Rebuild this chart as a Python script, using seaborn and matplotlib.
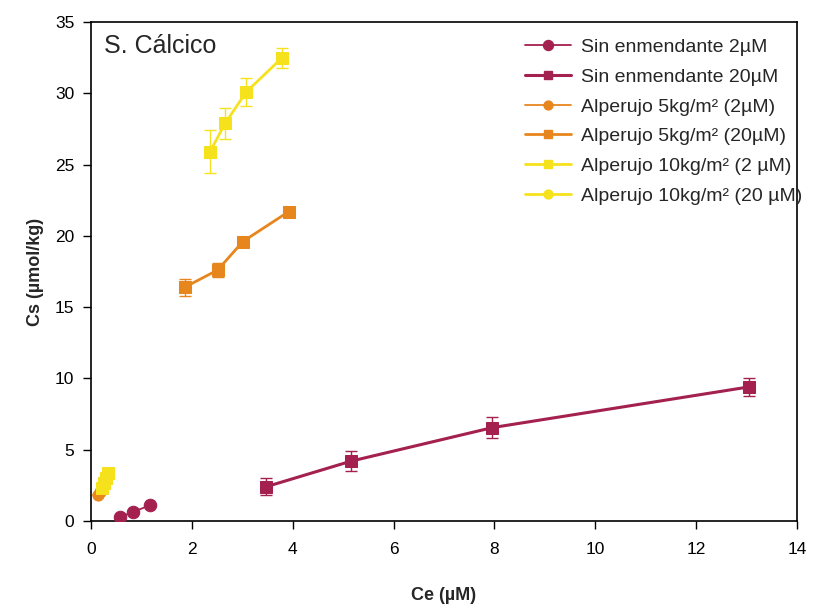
import matplotlib
matplotlib.use("Agg")
import matplotlib.pyplot as plt
import seaborn as sns
import numpy as np
import pandas as pd

sns.set_theme(style="white")
plt.rcParams['font.family'] = ['Liberation Sans', 'DejaVu Sans']

labels = ["Sin enmendante 2µM", "Sin enmendante 20µM",
          "Alperujo 5kg/m² (2µM)", "Alperujo 5kg/m² (20µM)",
          "Alperujo 10kg/m² (2 µM)", "Alperujo 10kg/m² (20 µM)"]

ce_sin2 = [0.58, 0.83, 1.17]
cs_sin2 = [0.28, 0.63, 1.10]
err_sin2 = [0.05, 0.05, 0.05]

ce_sin20 = [3.47, 5.16, 7.96, 13.04]
cs_sin20 = [2.4, 4.2, 6.55, 9.4]
err_sin20 = [0.6, 0.7, 0.75, 0.65]

ce_a5_2 = [0.14, 0.17, 0.20]
cs_a5_2 = [1.85, 2.0, 2.15]
err_a5_2 = [0.05, 0.05, 0.05]

ce_a5_20 = [1.86, 2.51, 3.01, 3.92]
cs_a5_20 = [16.4, 17.6, 19.6, 21.7]
err_a5_20 = [0.6, 0.5, 0.2, 0.2]

ce_a10_2 = [0.21, 0.25, 0.29, 0.33]
cs_a10_2 = [2.3, 2.65, 3.0, 3.35]
err_a10_2 = [0.1, 0.1, 0.1, 0.1]

ce_a10_20 = [2.36, 2.66, 3.08, 3.79]
cs_a10_20 = [25.9, 27.9, 30.1, 32.5]
err_a10_20 = [1.5, 1.1, 1.0, 0.7]

purple = "#A3204F"
orange = "#E8861E"
yellow = "#F6E21C"

series = [
    (ce_sin2, cs_sin2, err_sin2, purple, "o", 1.3, 9),
    (ce_sin20, cs_sin20, err_sin20, purple, "s", 2.2, 8),
    (ce_a5_2, cs_a5_2, err_a5_2, orange, "o", 1.3, 8),
    (ce_a5_20, cs_a5_20, err_a5_20, orange, "s", 2.0, 8),
    (ce_a10_2, cs_a10_2, err_a10_2, yellow, "s", 2.0, 8),
    (ce_a10_20, cs_a10_20, err_a10_20, yellow, "s", 2.0, 8),
]
legend_markers = ["o", "s", "o", "s", "s", "o"]

fig = plt.figure(figsize=(8.15, 6.06), dpi=100)
ax = fig.add_axes([0.1117, 0.1403, 0.8663, 0.8234])

handles = []
for (x, y, e, c, m, lw, ms), lab, lm in zip(series, labels, legend_markers):
    df = pd.DataFrame({"Ce": x, "Cs": y})
    ax.errorbar(x, y, yerr=e, fmt="none", ecolor=c, elinewidth=1.0, capsize=4, capthick=1.0, zorder=2)
    sns.lineplot(data=df, x="Ce", y="Cs", ax=ax, color=c, marker=m, markersize=ms,
                 markeredgecolor=c, linewidth=lw, sort=False, legend=False, zorder=3)
    h, = ax.plot([], [], color=c, marker=lm, markersize=ms * 0.8, markeredgecolor=c, linewidth=lw)
    handles.append(h)

ax.set_xlim(0, 14)
ax.set_ylim(0, 35)
ax.set_xticks(np.arange(0, 15, 2))
ax.set_yticks(np.arange(0, 36, 5))
ax.tick_params(axis="x", direction="out", length=6, width=1, labelsize=12.5, colors="black",
               bottom=True, pad=9)
ax.tick_params(axis="y", direction="out", length=6, width=1, labelsize=12.5, colors="black",
               left=True, pad=6)
for s in ax.spines.values():
    s.set_color("black")
    s.set_linewidth(1.2)
ax.set_xlabel("Ce (µM)", fontsize=13, fontweight="bold", labelpad=22)
ax.set_ylabel("Cs (µmol/kg)", fontsize=13, fontweight="bold", labelpad=8)
ax.text(0.018, 0.975, "S. Cálcico", transform=ax.transAxes, fontsize=18, va="top", ha="left")

leg = ax.legend(handles, labels, loc="upper right", bbox_to_anchor=(1.024, 0.99), frameon=False,
                fontsize=14, handlelength=2.4, labelspacing=0.62, handletextpad=0.5,
                borderaxespad=0.2)

fig.savefig("out.png", dpi=100)
